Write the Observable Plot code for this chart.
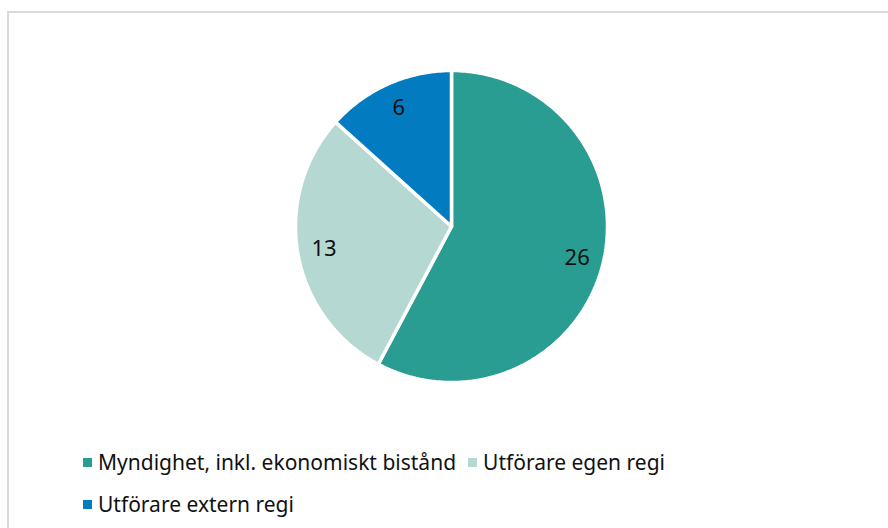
<!DOCTYPE html>
<html><head><meta charset="utf-8">
<script src="https://cdn.jsdelivr.net/npm/d3@7"></script>
<script src="https://cdn.jsdelivr.net/npm/@observablehq/plot@0.6"></script>
<style>
body{margin:0;background:#fff;font-family:"Noto Sans",Lato,sans-serif;width:888px;height:528px;overflow:hidden;position:relative}
#frame{position:absolute;left:7px;top:11px;width:900px;height:540px;border:2px solid #dadada;box-sizing:border-box}
#chart{position:absolute;left:0;top:0}
#legend{position:absolute;left:83px;top:447px;width:620px;display:flex;flex-wrap:wrap;column-gap:12px;row-gap:12px;font-size:21px;color:#111}
.item{display:flex;align-items:center;height:30px}
.sw{width:9px;height:9px;margin-right:6px}
</style></head><body>
<div id="frame"></div>
<div id="chart"></div>
<div id="legend"></div>
<script>
const categories = ["Myndighet, inkl. ekonomiskt bistånd", "Utförare egen regi", "Utförare extern regi"];
const values = [26, 13, 6];
const colors = ["#2a9d92", "#b6d8d3", "#027bc1"];

const pie = d3.pie().sort(null).value(d => d.value)(categories.map((c, i) => ({cat: c, value: values[i]})));
const pts = [];
pie.forEach(s => {
  pts.push({cat: s.data.cat, x: 0, y: 0});
  const n = Math.max(2, Math.ceil((s.endAngle - s.startAngle) / 0.01));
  for (let k = 0; k <= n; k++) {
    const a = s.startAngle + (s.endAngle - s.startAngle) * k / n;
    pts.push({cat: s.data.cat, x: Math.sin(a), y: Math.cos(a)});
  }
  pts.push({cat: s.data.cat, x: 0, y: 0});
});
const labels = pie.map(s => {
  const a = (s.startAngle + s.endAngle) / 2;
  return {cat: s.data.cat, value: s.data.value, x: 0.83 * Math.sin(a), y: 0.83 * Math.cos(a)};
});
const cx = 451, cy = 226, r = 156;
const plot = Plot.plot({
  width: 888, height: 420,
  x: {domain: [-1, 1], range: [cx - r, cx + r], axis: null},
  y: {domain: [-1, 1], range: [cy + r, cy - r], axis: null},
  color: {domain: categories, range: colors},
  style: {background: "transparent"},
  marks: [
    Plot.line(pts, {x: "x", y: "y", z: "cat", fill: "cat", stroke: "white", strokeWidth: 3.5, strokeLinejoin: "miter", curve: "linear"}),
    Plot.text(labels, {x: "x", y: "y", text: d => String(d.value), fontSize: 22, fill: "#111", fontFamily: "'Noto Sans', Lato, sans-serif"})
  ]
});
document.getElementById("chart").appendChild(plot);
const lg = document.getElementById("legend");
categories.forEach((c, i) => {
  const it = document.createElement("div"); it.className = "item";
  const sw = document.createElement("span"); sw.className = "sw"; sw.style.background = colors[i];
  const t = document.createElement("span"); t.textContent = c;
  it.appendChild(sw); it.appendChild(t); lg.appendChild(it);
});
</script>
</body></html>
